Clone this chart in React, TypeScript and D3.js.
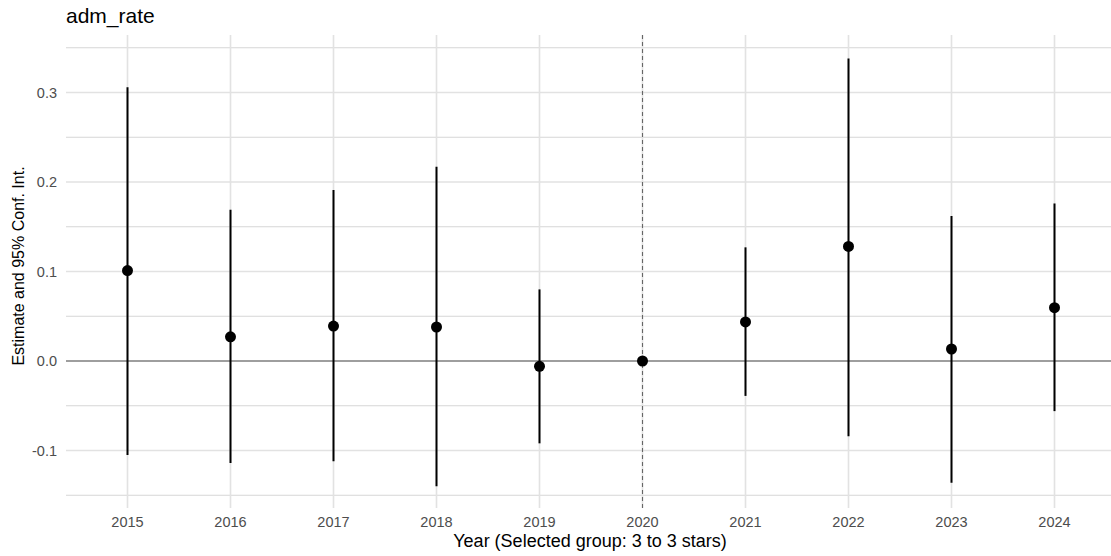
import React from "react";
import * as d3 from "d3";

const years = [2015, 2016, 2017, 2018, 2019, 2020, 2021, 2022, 2023, 2024];
const estimates = [0.101, 0.027, 0.039, 0.038, -0.006, 0.0, 0.0436, 0.128, 0.0134, 0.0596];
const ciLower = [-0.105, -0.114, -0.112, -0.14, -0.092, 0.0, -0.039, -0.084, -0.136, -0.056];
const ciUpper = [0.306, 0.169, 0.191, 0.217, 0.08, 0.0, 0.127, 0.338, 0.162, 0.176];
const yMajorTicks = [-0.1, 0.0, 0.1, 0.2, 0.3];
const yMinorTicks = [-0.15, -0.05, 0.05, 0.15, 0.25, 0.35];
const referenceYear = 2020;

const W = 1111;
const H = 556;
const panel = { left: 66, right: 1111, top: 35, bottom: 508 };

export default function App() {
  const x = d3.scaleLinear().domain([2015, 2024]).range([127.5, 1054.5]);
  const y = d3.scaleLinear().domain([0, 0.1]).range([361, 271.5]);

  const font = "Liberation Sans, Arial, Helvetica, sans-serif";

  return (
    <svg
      width={W}
      height={H}
      style={{ position: "absolute", left: 0, top: 0, background: "#fff" }}
      fontFamily={font}
    >
      <rect x={0} y={0} width={W} height={H} fill="#fff" />
      {/* minor horizontal grid */}
      {yMinorTicks.map((t) => (
        <line
          key={"mn" + t}
          x1={panel.left}
          x2={panel.right}
          y1={y(t)}
          y2={y(t)}
          stroke="#d6d6d6"
          strokeWidth={1}
        />
      ))}
      {/* major horizontal grid */}
      {yMajorTicks.map((t) => (
        <line
          key={"mj" + t}
          x1={panel.left}
          x2={panel.right}
          y1={y(t)}
          y2={y(t)}
          stroke="#e2e2e2"
          strokeWidth={1.6}
        />
      ))}
      {/* vertical grid */}
      {years.map((yr) => (
        <line
          key={"v" + yr}
          x1={x(yr)}
          x2={x(yr)}
          y1={panel.top}
          y2={panel.bottom}
          stroke="#e2e2e2"
          strokeWidth={1.6}
        />
      ))}
      {/* zero line */}
      <line
        x1={panel.left}
        x2={panel.right}
        y1={y(0)}
        y2={y(0)}
        stroke="#555"
        strokeWidth={1.2}
      />
      {/* reference year */}
      <line
        x1={x(referenceYear)}
        x2={x(referenceYear)}
        y1={panel.top}
        y2={panel.bottom}
        stroke="#666"
        strokeWidth={1.1}
        strokeDasharray="4,3"
      />
      {/* confidence intervals */}
      {years.map((yr, i) =>
        ciUpper[i] !== ciLower[i] ? (
          <line
            key={"ci" + yr}
            x1={x(yr)}
            x2={x(yr)}
            y1={y(ciUpper[i])}
            y2={y(ciLower[i])}
            stroke="#000"
            strokeWidth={2}
          />
        ) : null
      )}
      {/* estimates */}
      {years.map((yr, i) => (
        <circle key={"p" + yr} cx={x(yr)} cy={y(estimates[i])} r={5.5} fill="#000" />
      ))}
      {/* y tick labels */}
      {yMajorTicks.map((t) => (
        <text
          key={"yl" + t}
          x={57}
          y={y(t)}
          dy="0.36em"
          textAnchor="end"
          fontSize={14.5}
          fill="#4d4d4d"
        >
          {d3.format(".1f")(t).replace("−", "-")}
        </text>
      ))}
      {/* x tick labels */}
      {years.map((yr) => (
        <text
          key={"xl" + yr}
          x={x(yr)}
          y={527}
          textAnchor="middle"
          fontSize={14.5}
          fill="#4d4d4d"
        >
          {yr}
        </text>
      ))}
      {/* axis titles */}
      <text x={590} y={547} textAnchor="middle" fontSize={18} fill="#000">
        Year (Selected group: 3 to 3 stars)
      </text>
      <text
        transform={`translate(24, 266) rotate(-90)`}
        textAnchor="middle"
        fontSize={16}
        fill="#000"
      >
        Estimate and 95% Conf. Int.
      </text>
      <text x={66} y={23} fontSize={21} fill="#000">
        adm_rate
      </text>
    </svg>
  );
}
